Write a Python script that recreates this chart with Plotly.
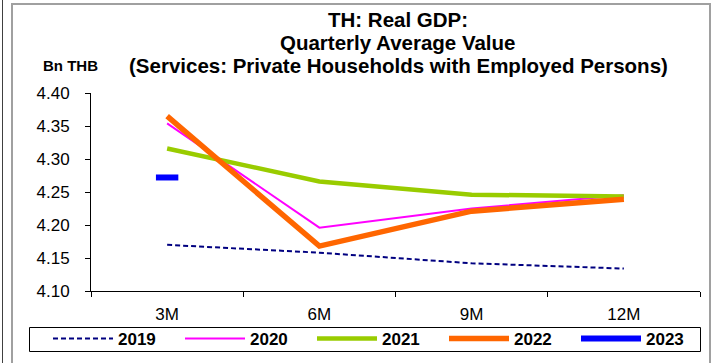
import plotly.graph_objects as go

categories = ["3M", "6M", "9M", "12M"]
y2019 = [4.170, 4.158, 4.142, 4.134]
y2020 = [4.354, 4.196, 4.225, 4.245]
y2021 = [4.316, 4.266, 4.246, 4.243]
y2022 = [4.365, 4.168, 4.221, 4.239]
y2023 = [4.272]
ytickvals = [4.10, 4.15, 4.20, 4.25, 4.30, 4.35, 4.40]
title_lines = ["TH: Real GDP:", "Quarterly Average Value",
               "(Services: Private Households with Employed Persons)"]

W, H = 712, 363
ML, MR, MT, MB = 91, 12, 93, 72
PW, PH = W - ML - MR, H - MT - MB
FONT = "Liberation Sans, Arial, sans-serif"

def px(x):
    return (x - ML) / PW

def py(y):
    return (H - MB - y) / PH

fig = go.Figure()
fig.add_trace(go.Scatter(x=categories, y=y2019, name="2019", mode="lines",
                         line=dict(color="#000080", width=2, dash="5px,3px")))
fig.add_trace(go.Scatter(x=categories, y=y2020, name="2020", mode="lines",
                         line=dict(color="#FF00FF", width=2)))
fig.add_trace(go.Scatter(x=categories, y=y2021, name="2021", mode="lines",
                         line=dict(color="#99CC00", width=4.5)))
fig.add_trace(go.Scatter(x=categories, y=y2022, name="2022", mode="lines",
                         line=dict(color="#FF6600", width=5.5)))
# 2023: single observation drawn as a short thick dash
fig.add_trace(go.Scatter(x=categories[:len(y2023)], y=y2023, name="2023", mode="markers",
                         legendgroup="2023", showlegend=False,
                         marker=dict(symbol="line-ew", size=16, color="#0000FF",
                                     line=dict(color="#0000FF", width=6))))
# legend entry for 2023 (thick line key)
fig.add_trace(go.Scatter(x=categories[:len(y2023)], y=[None] * len(y2023), name="2023",
                         mode="lines", legendgroup="2023",
                         line=dict(color="#0000FF", width=6)))

fig.update_layout(
    width=W, height=H,
    margin=dict(l=ML, r=MR, t=MT, b=MB, autoexpand=False),
    paper_bgcolor="white", plot_bgcolor="white",
    font=dict(family=FONT, color="black", size=17),
    showlegend=True,
    legend=dict(orientation="h", x=px(36), y=py(321), xanchor="left", yanchor="top",
                borderwidth=0, bgcolor="rgba(0,0,0,0)",
                font=dict(size=17, family=FONT, weight="bold"),
                entrywidth=45, entrywidthmode="pixels", itemwidth=60,
                indentation=12, tracegroupgap=0),
    xaxis=dict(type="category", range=[-0.5, 3.5], showline=True, linecolor="black",
               linewidth=1, ticks="outside", tickson="boundaries", ticklen=5,
               tickcolor="black", showgrid=False, zeroline=False,
               ticklabelstandoff=8, tickfont=dict(size=17)),
    yaxis=dict(range=[4.10, 4.40], tickvals=ytickvals, tickformat=".2f",
               showline=True, linecolor="black", linewidth=1, ticks="outside",
               ticklen=5, tickcolor="black", showgrid=False, zeroline=False,
               ticklabelstandoff=12, tickfont=dict(size=17)),
)

for line_text, yc in zip(title_lines, [20, 43, 65]):
    fig.add_annotation(x=px(398), y=py(yc), xref="paper", yref="paper",
                       xanchor="center", yanchor="middle", showarrow=False,
                       text="<b>" + line_text + "</b>",
                       font=dict(size=20.5, family=FONT))
fig.add_annotation(x=px(70), y=py(66), xref="paper", yref="paper",
                   xanchor="center", yanchor="middle", showarrow=False,
                   text="<b>Bn THB</b>",
                   font=dict(size=15, family=FONT))

fig.add_shape(type="rect", xref="paper", yref="paper",
              x0=px(12), x1=px(710), y0=py(370), y1=py(4),
              line=dict(color="#A0A0A0", width=2), layer="below")
fig.add_shape(type="line", xref="paper", yref="paper",
              x0=px(2.5), x1=px(2.5), y0=py(370), y1=py(-5),
              line=dict(color="#404040", width=1), layer="below")
# legend frame
fig.add_shape(type="rect", xref="paper", yref="paper",
              x0=px(29.5), x1=px(700.5), y0=py(351.5), y1=py(327.5),
              line=dict(color="black", width=1), fillcolor="rgba(0,0,0,0)",
              layer="above")

fig.write_html("out.html", config={"displayModeBar": False},
               post_script="document.body.style.margin='0';")
